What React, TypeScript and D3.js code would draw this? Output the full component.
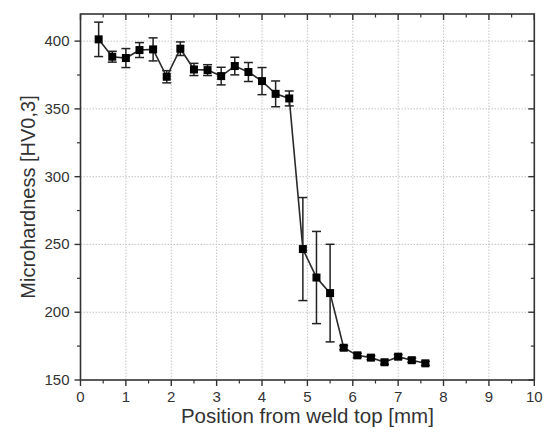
import React from "react";
import * as d3 from "d3";

const positions = [0.4, 0.7, 1.0, 1.3, 1.6, 1.9, 2.2, 2.5, 2.8, 3.1, 3.4, 3.7, 4.0, 4.3, 4.6, 4.9, 5.2, 5.5, 5.8, 6.1, 6.4, 6.7, 7.0, 7.3, 7.6];
const hardness = [401.3, 388.5, 387.5, 393.4, 393.9, 373.7, 394.4, 379.1, 378.6, 374.2, 381.6, 377.2, 370.5, 361.1, 357.7, 246.6, 225.6, 214.1, 173.8, 168.2, 166.5, 163.1, 167.2, 164.6, 162.3];
const errors = [12.7, 4, 7, 5.5, 8.5, 4.5, 5, 4.5, 4, 6.5, 6.5, 7, 10, 9.5, 5.5, 38, 34, 36, 1.5, 1.5, 1.5, 1.5, 1.5, 1.5, 1.5];
const xTicks = [0, 1, 2, 3, 4, 5, 6, 7, 8, 9, 10];
const xMinor = [0.5, 1.5, 2.5, 3.5, 4.5, 5.5, 6.5, 7.5, 8.5, 9.5];
const yTicks = [150, 200, 250, 300, 350, 400];
const yMinor = [175, 225, 275, 325, 375];
const xTitle = "Position from weld top [mm]";
const yTitle = "Microhardness [HV0,3]";

const W = 545, H = 432;
const M = { left: 80.5, right: 10.7, top: 14, bottom: 52 };

export default function App() {
  const x = d3.scaleLinear().domain([0, 10]).range([M.left, W - M.right]);
  const y = d3.scaleLinear().domain([150, 420]).range([H - M.bottom, M.top]);
  const x0 = M.left, x1 = W - M.right, y0 = H - M.bottom, y1 = M.top;
  const axisColor = "#333";
  const font = "Liberation Sans, Arial, sans-serif";
  const line = d3.line<number>().x((_, i) => x(positions[i])).y((d) => y(d));
  const ms = 8;
  return (
    <svg width={W} height={H} style={{ position: "absolute", left: 0, top: 0, background: "#fff" }} fontFamily={font}>
      {/* grid */}
      {xTicks.filter((t) => t > 0 && t < 10).map((t) => (
        <line key={"gx" + t} x1={x(t)} x2={x(t)} y1={y0} y2={y1} stroke="#c4c4c4" strokeWidth={1} strokeDasharray="1.5,1.5" />
      ))}
      {yTicks.filter((t) => t > 150).map((t) => (
        <line key={"gy" + t} x1={x0} x2={x1} y1={y(t)} y2={y(t)} stroke="#c4c4c4" strokeWidth={1} strokeDasharray="1.5,1.5" />
      ))}
      {/* error bars */}
      {positions.map((p, i) => {
        const cx = x(p);
        const top = y(hardness[i] + errors[i]);
        const bot = y(hardness[i] - errors[i]);
        return (
          <g key={"e" + i} stroke="#222" strokeWidth={1.5}>
            <line x1={cx} x2={cx} y1={top} y2={bot} />
            <line x1={cx - 4.5} x2={cx + 4.5} y1={top} y2={top} />
            <line x1={cx - 4.5} x2={cx + 4.5} y1={bot} y2={bot} />
          </g>
        );
      })}
      {/* data line */}
      <path d={line(hardness) || ""} fill="none" stroke="#2a2a2a" strokeWidth={1.6} />
      {/* markers */}
      {positions.map((p, i) => (
        <rect key={"m" + i} x={x(p) - ms / 2} y={y(hardness[i]) - ms / 2} width={ms} height={ms} fill="#000" />
      ))}
      {/* frame */}
      <rect x={x0} y={y1} width={x1 - x0} height={y0 - y1} fill="none" stroke={axisColor} strokeWidth={1.6} />
      {/* bottom ticks (out) & top ticks (in) */}
      {xTicks.map((t) => (
        <g key={"xt" + t} stroke={axisColor} strokeWidth={1.4}>
          <line x1={x(t)} x2={x(t)} y1={y0} y2={y0 + 6} />
          <line x1={x(t)} x2={x(t)} y1={y1} y2={y1 + 6} />
        </g>
      ))}
      {xMinor.map((t) => (
        <g key={"xm" + t} stroke={axisColor} strokeWidth={1.2}>
          <line x1={x(t)} x2={x(t)} y1={y0} y2={y0 + 3.5} />
          <line x1={x(t)} x2={x(t)} y1={y1} y2={y1 + 3.5} />
        </g>
      ))}
      {yTicks.map((t) => (
        <g key={"yt" + t} stroke={axisColor} strokeWidth={1.4}>
          <line x1={x0 - 6} x2={x0} y1={y(t)} y2={y(t)} />
          <line x1={x1 - 6} x2={x1} y1={y(t)} y2={y(t)} />
        </g>
      ))}
      {yMinor.map((t) => (
        <g key={"ym" + t} stroke={axisColor} strokeWidth={1.2}>
          <line x1={x0 - 3.5} x2={x0} y1={y(t)} y2={y(t)} />
          <line x1={x1 - 3.5} x2={x1} y1={y(t)} y2={y(t)} />
        </g>
      ))}
      {/* tick labels */}
      {xTicks.map((t) => (
        <text key={"xl" + t} x={x(t)} y={y0 + 22} textAnchor="middle" fontSize={15} fill="#333">{t}</text>
      ))}
      {yTicks.map((t) => (
        <text key={"yl" + t} x={x0 - 11} y={y(t) + 5} textAnchor="end" fontSize={15} fill="#333">{t}</text>
      ))}
      {/* titles */}
      <text x={(x0 + x1) / 2} y={H - 9} textAnchor="middle" fontSize={20.5} fill="#333">{xTitle}</text>
      <text transform={`translate(35, ${(y0 + y1) / 2}) rotate(-90)`} textAnchor="middle" fontSize={20} fill="#333">{yTitle}</text>
    </svg>
  );
}
